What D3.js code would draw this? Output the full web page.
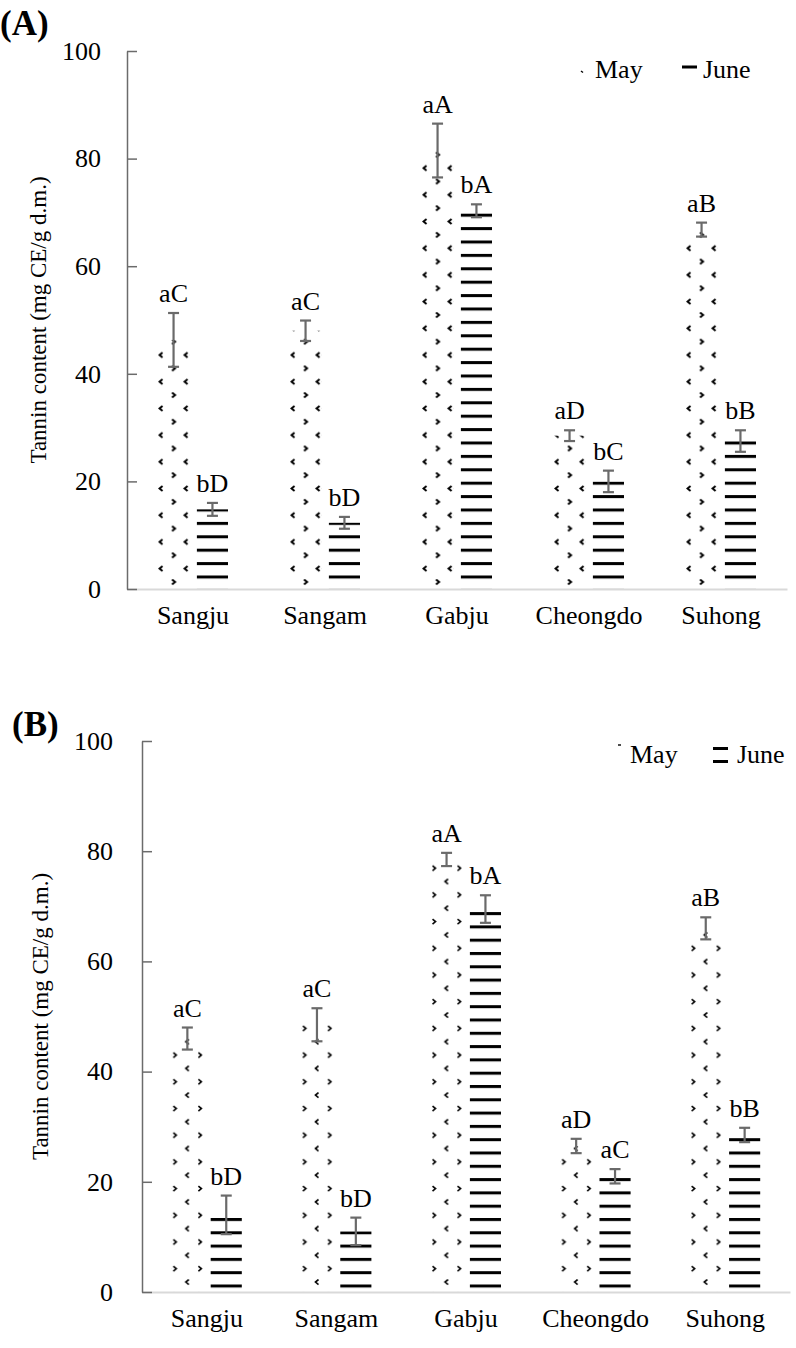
<!DOCTYPE html>
<html><head><meta charset="utf-8">
<script src="https://cdn.jsdelivr.net/npm/d3@7"></script>
<style>
html,body{margin:0;padding:0;background:#fff;}
svg{display:block;font-family:"Liberation Serif","Times New Roman",serif;}
</style></head>
<body>
<svg id="chart" width="796" height="1348"></svg>
<script>
// ---------- data ----------
const categories = ["Sangju", "Sangam", "Gabju", "Cheongdo", "Suhong"];
const seriesNames = ["May", "June"];
const yTicks = [0, 20, 40, 60, 80, 100];
const yTitle = "Tannin content (mg CE/g d.m.)";

// Panel A
const mayA = [46.3, 48.0, 81.5, 28.5, 66.8];
const mayErrA = [5.0, 1.9, 5.0, 1.0, 1.3];
const juneA = [14.8, 12.3, 70.3, 20.0, 27.5];
const juneErrA = [1.2, 1.1, 1.2, 2.0, 2.0];
const mayLettersA = ["aC", "aC", "aA", "aD", "aB"];
const juneLettersA = ["bD", "bD", "bA", "bC", "bB"];

// Panel B
const mayB = [46.0, 48.5, 78.5, 26.5, 66.0];
const mayErrB = [2.0, 3.0, 1.2, 1.3, 2.0];
const juneB = [14.0, 11.0, 69.5, 21.0, 28.5];
const juneErrB = [3.5, 2.5, 2.5, 1.3, 1.3];
const mayLettersB = ["aC", "aC", "aA", "aD", "aB"];
const juneLettersB = ["bD", "bD", "bA", "aC", "bB"];

// ---------- drawing ----------
const svg = d3.select("#chart");
const defs = svg.append("defs");
const FS = 26;

function drawPanel(cfg) {
  const g = svg.append("g");
  const x = d3.scaleBand().domain(categories).range([cfg.left, cfg.right]);
  const xs = d3.scaleBand().domain(seriesNames)
    .range([x.bandwidth() / 2 - 35, x.bandwidth() / 2 + 35]).paddingInner(0.2);
  const y = d3.scaleLinear().domain([0, 100]).range([cfg.bottom, cfg.top]);
  const bw = xs.bandwidth();

  const rows = [];
  categories.forEach((c, i) => {
    rows.push({cat: c, s: "May", v: cfg.may[i], e: cfg.mayErr[i], l: cfg.mayL[i], i});
    rows.push({cat: c, s: "June", v: cfg.june[i], e: cfg.juneErr[i], l: cfg.juneL[i], i});
  });

  // patterns per bar
  rows.forEach(d => {
    const bx = x(d.cat) + xs(d.s);
    const id = `p${cfg.name}${d.s}${d.i}`;
    d.pid = id;
    if (d.s === "June") {
      const p = defs.append("pattern").attr("id", id).attr("patternUnits", "userSpaceOnUse")
        .attr("x", bx).attr("y", cfg.bottom - cfg.junePhase - 1.5)
        .attr("width", bw).attr("height", cfg.junePeriod);
      p.append("rect").attr("x", 0).attr("y", 0).attr("width", bw).attr("height", 3).attr("fill", "#000");
    } else {
      const per = cfg.mayPeriod;
      const p = defs.append("pattern").attr("id", id).attr("patternUnits", "userSpaceOnUse")
        .attr("x", bx).attr("y", cfg.bottom - cfg.mayPhase - 3)
        .attr("width", bw).attr("height", per);
      const sw = cfg.markW;
      p.append("path").attr("d", cfg.midRight ? "M" + (bw/2-1.5) + ",0.5 l3,2.5 l-3,2.5" : "M" + (bw/2+1.5) + ",0.5 l-3,2.5 l3,2.5")
        .attr("fill", "none").attr("stroke", "#000").attr("stroke-width", sw);
      const yy = per / 2;
      const side = cfg.midRight ? "l-3,2.5 l3,2.5" : "l3,2.5 l-3,2.5";
      const off = cfg.midRight ? 3.5 : 0.5;
      p.append("path").attr("d", `M${1 + off},${yy + 0.5} ${side}`)
        .attr("fill", "none").attr("stroke", "#000").attr("stroke-width", sw);
      p.append("path").attr("d", `M${bw - 5 + off},${yy + 0.5} ${side}`)
        .attr("fill", "none").attr("stroke", "#000").attr("stroke-width", sw);
    }
  });

  // bars
  g.selectAll("rect.bar").data(rows).join("rect").attr("class", "bar")
    .attr("x", d => x(d.cat) + xs(d.s))
    .attr("y", d => y(d.v))
    .attr("width", bw)
    .attr("height", d => y(0) - y(d.v))
    .attr("fill", d => `url(#${d.pid})`);

  // x axis
  const xa = g.append("g").attr("transform", `translate(0,${cfg.bottom})`)
    .call(d3.axisBottom(x).tickSize(0).tickPadding(0));
  xa.select(".domain").attr("stroke", "#d9d9d9").attr("stroke-width", 2);
  xa.selectAll("text").attr("font-size", FS).attr("fill", "#000")
    .attr("font-family", "Liberation Serif").attr("dy", null).attr("y", 35);

  // y axis
  const ya = g.append("g").attr("transform", `translate(${cfg.left},0)`)
    .call(d3.axisLeft(y).tickValues(yTicks).tickSizeInner(-10).tickSizeOuter(0).tickPadding(cfg.tickPad));
  ya.select(".domain").attr("stroke", "#6b6b6b").attr("stroke-width", 1.5);
  ya.selectAll(".tick line").attr("stroke", "#6b6b6b").attr("stroke-width", 1.5);
  ya.selectAll("text").attr("font-size", FS).attr("fill", "#000").attr("font-family", "Liberation Serif");

  // error bars
  const eb = g.selectAll("g.err").data(rows).join("g").attr("class", "err")
    .attr("stroke", "#6a6a6a").attr("stroke-width", 2.2);
  const cx = d => x(d.cat) + xs(d.s) + bw / 2;
  eb.append("line").attr("x1", cx).attr("x2", cx).attr("y1", d => y(d.v + d.e)).attr("y2", d => y(d.v - d.e));
  eb.append("line").attr("x1", d => cx(d) - 5.5).attr("x2", d => cx(d) + 5.5).attr("y1", d => y(d.v + d.e)).attr("y2", d => y(d.v + d.e));
  eb.append("line").attr("x1", d => cx(d) - 5.5).attr("x2", d => cx(d) + 5.5).attr("y1", d => y(d.v - d.e)).attr("y2", d => y(d.v - d.e));

  // letters
  g.selectAll("text.lbl").data(rows).join("text").attr("class", "lbl")
    .attr("x", cx).attr("y", d => y(d.v + d.e) - 11)
    .attr("text-anchor", "middle").attr("font-size", FS).text(d => d.l);

  // y title
  g.append("text").attr("transform", `translate(${cfg.titleX},${(cfg.top + cfg.bottom) / 2}) rotate(-90)`)
    .attr("text-anchor", "middle").attr("font-size", 23).text(yTitle);

  // panel label
  g.append("text").attr("x", cfg.labelX).attr("y", cfg.labelY).attr("font-size", 35)
    .attr("font-weight", "bold").text(cfg.label);

  // legend
  const lg = g.append("g");
  lg.append("path").attr("d", cfg.legMayMark).attr("stroke", "#000").attr("stroke-width", 1.4).attr("fill", "none");
  lg.append("text").attr("x", cfg.legMayX).attr("y", cfg.legY).attr("font-size", FS).text(seriesNames[0]);
  cfg.legJuneLines.forEach(ly => {
    lg.append("rect").attr("x", cfg.legJuneX).attr("y", ly).attr("width", 15).attr("height", 3).attr("fill", "#000");
  });
  lg.append("text").attr("x", cfg.legJuneTextX).attr("y", cfg.legY).attr("font-size", FS).text(seriesNames[1]);
}

drawPanel({
  name: "A", left: 127, right: 787, top: 51, bottom: 589,
  may: mayA, mayErr: mayErrA, june: juneA, juneErr: juneErrA, mayL: mayLettersA, juneL: juneLettersA,
  junePeriod: 13.4, junePhase: 12, mayPeriod: 26.7, mayPhase: 7, midRight: true, markW: 2,
  tickPad: 26, titleX: 46, label: "(A)", labelX: 0, labelY: 35,
  legMayMark: "M581,71 l2,1.5", legMayX: 595, legY: 78,
  legJuneX: 682, legJuneLines: [65.5], legJuneTextX: 703
});

drawPanel({
  name: "B", left: 142, right: 790, top: 741, bottom: 1292,
  may: mayB, mayErr: mayErrB, june: juneB, juneErr: juneErrB, mayL: mayLettersB, juneL: juneLettersB,
  junePeriod: 13.3, junePhase: 6, mayPeriod: 26.7, mayPhase: 10, midRight: false, markW: 1.6,
  tickPad: 29, titleX: 48, label: "(B)", labelX: 12, labelY: 736,
  legMayMark: "M618,745 l3,0", legMayX: 630, legY: 763,
  legJuneX: 713, legJuneLines: [747, 760], legJuneTextX: 737
});
</script>
</body></html>
